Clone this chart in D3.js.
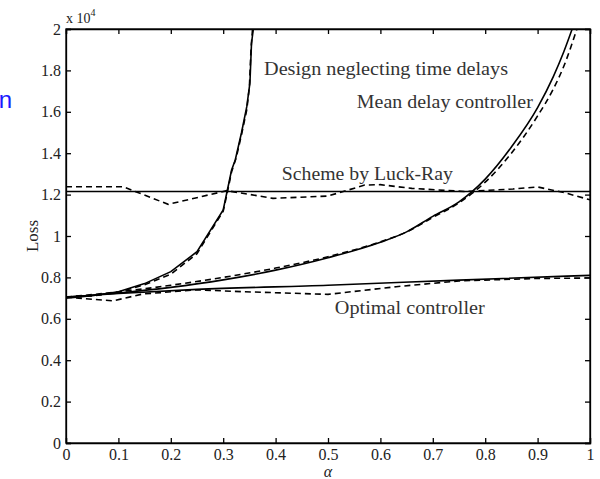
<!DOCTYPE html>
<html><head><meta charset="utf-8">
<script src="https://cdn.jsdelivr.net/npm/d3@7"></script>
<style>body{margin:0;background:#fff}svg{display:block}svg text{font-family:"Liberation Serif","DejaVu Serif",serif !important;fill:#222}</style>
</head><body>
<svg id="c" width="600" height="479"></svg>
<script>
const xTicks=[0,0.1,0.2,0.3,0.4,0.5,0.6,0.7,0.8,0.9,1];
const yTicks=[0,0.2,0.4,0.6,0.8,1,1.2,1.4,1.6,1.8,2];
const yTickLabels=["0","0.2","0.4","0.6","0.8","1","1.2","1.4","1.6","1.8","2"];
// values in units of 10^4
const neglectSolid=[[0,0.70],[0.05,0.712],[0.1,0.731],[0.15,0.77],[0.2,0.828],[0.25,0.924],[0.3,1.126],[0.307,1.21],[0.316,1.319],[0.323,1.367],[0.335,1.5],[0.345,1.625],[0.351,1.74],[0.354,1.93],[0.3575,2.0]];
const neglectDashed=[[0,0.705],[0.05,0.71],[0.1,0.728],[0.15,0.765],[0.2,0.815],[0.25,0.915],[0.3,1.12],[0.307,1.2],[0.316,1.31],[0.325,1.38],[0.335,1.49],[0.345,1.61],[0.35,1.72],[0.353,1.9],[0.356,2.0]];
const meanSolid=[[0,0.705],[0.1,0.725],[0.2,0.752],[0.3,0.788],[0.4,0.835],[0.5,0.895],[0.6,0.97],[0.65,1.02],[0.7,1.095],[0.75,1.165],[0.8,1.275],[0.85,1.43],[0.9,1.62],[0.93,1.77],[0.95,1.89],[0.966,2.0]];
const meanDashed=[[0,0.705],[0.1,0.73],[0.2,0.762],[0.3,0.8],[0.4,0.845],[0.5,0.9],[0.6,0.972],[0.65,1.02],[0.7,1.09],[0.75,1.16],[0.8,1.26],[0.85,1.4],[0.9,1.58],[0.93,1.71],[0.95,1.82],[0.975,2.0]];
const luckSolid=[[0,1.215],[1,1.215]];
const luckDashed=[[0,1.238],[0.109,1.238],[0.195,1.153],[0.307,1.219],[0.395,1.182],[0.5,1.193],[0.57,1.246],[0.6,1.248],[0.66,1.23],[0.76,1.215],[0.853,1.227],[0.9,1.237],[0.95,1.21],[1,1.175]];
const optSolid=[[0,0.705],[0.1,0.722],[0.25,0.742],[0.5,0.762],[0.75,0.787],[1,0.81]];
const optDashed=[[0,0.705],[0.052,0.694],[0.09,0.687],[0.147,0.72],[0.25,0.74],[0.338,0.731],[0.5,0.718],[0.63,0.755],[0.75,0.783],[0.9,0.795],[1,0.797]];
const annotations=[
 {t:"Design neglecting time delays",a:0.378,v:1.78,w:244},
 {t:"Mean delay controller",a:0.555,v:1.62,w:176},
 {t:"Scheme by Luck-Ray",a:0.412,v:1.27,w:171},
 {t:"Optimal controller",a:0.513,v:0.625,w:150}
];

const svg=d3.select("#c");
const L=66,R=590,T=29,B=443;
const x=d3.scaleLinear().domain([0,1]).range([L,R]);
const y=d3.scaleLinear().domain([0,2]).range([B,T]);

svg.append("clipPath").attr("id","cp").append("rect").attr("x",L).attr("y",T).attr("width",R-L).attr("height",B-T);

const smooth=d3.line().x(d=>x(d[0])).y(d=>y(d[1])).curve(d3.curveMonotoneX);
const straight=d3.line().x(d=>x(d[0])).y(d=>y(d[1]));
const g=svg.append("g").attr("clip-path","url(#cp)");
function draw(data,dashed,gen){
  g.append("path").attr("d",gen(data)).attr("fill","none").attr("stroke","#000")
   .attr("stroke-width",1.6).attr("stroke-dasharray",dashed?"6,4":null);
}
draw(neglectSolid,false,straight);draw(neglectDashed,true,straight);
draw(meanSolid,false,smooth);draw(meanDashed,true,smooth);
draw(luckSolid,false,straight);draw(luckDashed,true,straight);
draw(optSolid,false,smooth);draw(optDashed,true,straight);

// axes with inner ticks
const ax=svg.append("g");
ax.append("g").attr("transform",`translate(0,${B})`).call(d3.axisBottom(x).tickValues(xTicks).tickSize(-5).tickPadding(6).tickFormat(d=>d===0||d===1?String(d):d3.format(".1f")(d)));
ax.append("g").attr("transform",`translate(0,${T})`).call(d3.axisTop(x).tickValues(xTicks).tickSize(-5).tickFormat(""));
ax.append("g").attr("transform",`translate(${L},0)`).call(d3.axisLeft(y).tickValues(yTicks).tickSize(-5).tickPadding(5).tickFormat((d,i)=>yTickLabels[i]));
ax.append("g").attr("transform",`translate(${R},0)`).call(d3.axisRight(y).tickValues(yTicks).tickSize(-5).tickFormat(""));
ax.selectAll("g").attr("font-family",null).attr("font-size",null);
ax.selectAll(".domain").attr("stroke","#000").attr("stroke-width",1.3);
ax.selectAll(".tick line").attr("stroke","#000").attr("stroke-width",1.3);
ax.selectAll(".tick text").style("font-size","16px").style("fill","#222");
svg.append("rect").attr("x",L).attr("y",T).attr("width",R-L).attr("height",B-T).attr("fill","none").attr("stroke","#000").attr("stroke-width",1.3);

// annotations
annotations.forEach(a=>{
  svg.append("text").attr("x",x(a.a)).attr("y",y(a.v)).attr("font-size",18)
   .attr("textLength",a.w).attr("lengthAdjust","spacingAndGlyphs").style("fill","#333").text(a.t);
});

// axis labels
svg.append("text").attr("transform",`translate(38,${(T+B)/2}) rotate(-90)`).attr("text-anchor","middle").attr("font-size",17).text("Loss");
svg.append("text").attr("x",x(0.5)).attr("y",477).attr("text-anchor","middle").attr("font-size",16).attr("font-style","italic").text("α");
const sc=svg.append("text").attr("x",66).attr("y",23).attr("font-size",14);
sc.append("tspan").text("x 10");
sc.append("tspan").attr("dy",-7).attr("font-size",10).text("4");
svg.append("text").attr("x",12).attr("y",108).attr("text-anchor","end").attr("font-size",24).attr("style","font-family:'Liberation Sans',sans-serif !important;fill:#1a1aff").text("n");
</script>
</body></html>
